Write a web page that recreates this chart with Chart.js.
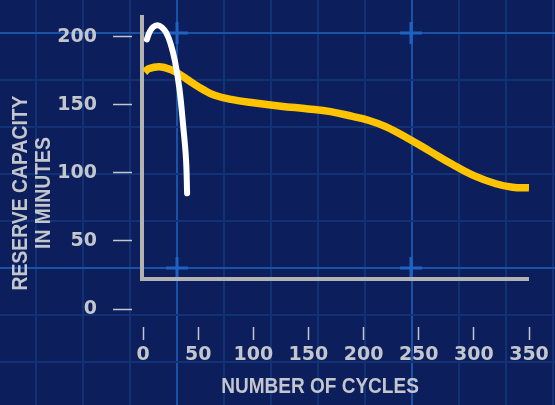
<!DOCTYPE html>
<html>
<head>
<meta charset="utf-8">
<script src="https://cdn.jsdelivr.net/npm/chart.js@4/dist/chart.umd.min.js"></script>
<style>
    html, body { margin: 0; padding: 0; background: #0c1e5c; }
    #wrap { width: 555px; height: 405px; }
</style>
</head>
<body>
<div id="wrap"><canvas id="chart" width="555" height="405"></canvas></div>
<script>
// white curve (short life)
const whiteCycles  = [3.5, 6, 9, 13, 17, 21, 25, 29, 33, 36.5, 39, 40];
const whiteMinutes = [198, 203.5, 207, 208.5, 207, 203, 195, 182, 162, 134, 110, 85];

// yellow curve (long life)
const yellowCycles  = [1.5, 5, 15, 25, 34, 45, 55, 65, 80, 100, 125, 150, 170, 190, 205, 220, 240, 260, 280, 300, 320, 335, 350];
const yellowMinutes = [174, 176.5, 178, 176, 172, 166, 161, 157, 154, 151.5, 149, 147, 145, 141.5, 138.5, 134, 125.5, 116, 106.5, 98, 92, 89.5, 89];

const xTickStep = 50;
const yTickStep = 50;
const frameBase = 22;   // where the grey frame sits on the minutes axis

const textGrey = '#c3c6cc';
const tickFont = { family: 'DejaVu Sans', weight: 'bold', size: 19 };
const titleFont = 'bold 22px "Liberation Sans", sans-serif';

const toPoints = (xs, ys) => xs.map((x, i) => ({ x: x, y: ys[i] }));

// blueprint style background, grey frame and axis titles
const blueprint = {
    id: 'blueprint',
    beforeDraw(chart) {
        const ctx = chart.ctx;
        const w = chart.width, h = chart.height;
        ctx.save();
        ctx.fillStyle = '#0c1e5c';
        ctx.fillRect(0, 0, w, h);
        let k = 0;
        for (let x = 36; x < w; x += 47, k++) {
            ctx.fillStyle = (k % 5 === 3) ? '#1a52a8' : '#123276';
            ctx.fillRect(x - 1, 0, 2, h);
        }
        k = 0;
        for (let y = 33; y < h; y += 47, k++) {
            ctx.fillStyle = (k % 5 === 0) ? '#1a52a8' : '#123276';
            ctx.fillRect(0, y - 1, w, 2);
        }
        ctx.fillStyle = '#1f63c2';
        [[177, 33], [411, 33], [177, 268], [411, 268]].forEach(([cx, cy]) => {
            ctx.fillRect(cx - 11, cy - 1.5, 22, 3);
            ctx.fillRect(cx - 1.5, cy - 11, 3, 22);
        });
        ctx.restore();
    },
    beforeDatasetsDraw(chart) {
        const ctx = chart.ctx;
        const xs = chart.scales.x, ys = chart.scales.y;
        const x0 = xs.getPixelForValue(0) - 1;
        const yb = ys.getPixelForValue(frameBase);
        ctx.save();
        ctx.strokeStyle = '#b3b3b3';
        ctx.lineWidth = 4;
        ctx.beginPath();
        ctx.moveTo(x0, chart.chartArea.top);
        ctx.lineTo(x0, yb);
        ctx.lineTo(xs.getPixelForValue(350), yb);
        ctx.stroke();
        ctx.restore();
    },
    afterDraw(chart) {
        const ctx = chart.ctx;
        ctx.save();
        ctx.fillStyle = textGrey;
        ctx.font = titleFont;
        ctx.textAlign = 'center';
        ctx.textBaseline = 'alphabetic';
        // condensed look
        ctx.save();
        ctx.translate(320, 393);
        ctx.scale(0.865, 1);
        ctx.fillText('NUMBER OF CYCLES', 0, 0);
        ctx.restore();
        ctx.translate(0, 193);
        ctx.rotate(-Math.PI / 2);
        ctx.scale(0.88, 1);
        ctx.fillText('RESERVE CAPACITY', 0, 27);
        ctx.fillText('IN MINUTES', 0, 50);
        ctx.restore();
    }
};

new Chart(document.getElementById('chart'), {
    type: 'line',
    data: {
        datasets: [
            {
                label: 'white',
                data: toPoints(whiteCycles, whiteMinutes),
                borderColor: '#ffffff',
                borderWidth: 6,
                borderCapStyle: 'round',
                pointRadius: 0,
                tension: 0.4
            },
            {
                label: 'yellow',
                data: toPoints(yellowCycles, yellowMinutes),
                borderColor: '#ffc300',
                borderWidth: 7.5,
                borderCapStyle: 'butt',
                pointRadius: 0,
                tension: 0.4
            }
        ]
    },
    options: {
        responsive: false,
        devicePixelRatio: 1,
        animation: false,
        layout: { padding: { left: 0, right: 26, top: 15, bottom: 0 } },
        plugins: {
            legend: { display: false },
            tooltip: { enabled: false }
        },
        scales: {
            x: {
                type: 'linear',
                min: 0,
                max: 350,
                afterFit(s) { s.height = 96; },
                ticks: { stepSize: xTickStep, color: textGrey, font: tickFont, padding: 4, autoSkip: false, maxRotation: 0 },
                grid: {
                    drawOnChartArea: false,
                    tickLength: 31,
                    tickBorderDash: [0, 18, 13, 100],
                    tickColor: textGrey,
                    tickWidth: 1.5
                },
                border: { display: false }
            },
            y: {
                type: 'linear',
                min: 0,
                max: 216,
                afterFit(s) { s.width = 143; },
                ticks: { stepSize: yTickStep, includeBounds: false, color: textGrey, font: tickFont, padding: 0 },
                grid: {
                    drawOnChartArea: false,
                    tickLength: 46,
                    tickBorderDash: [0, 16, 19, 100],
                    tickColor: textGrey,
                    tickWidth: 1.5
                },
                border: { display: false }
            }
        }
    },
    plugins: [blueprint]
});
</script>
</body>
</html>
